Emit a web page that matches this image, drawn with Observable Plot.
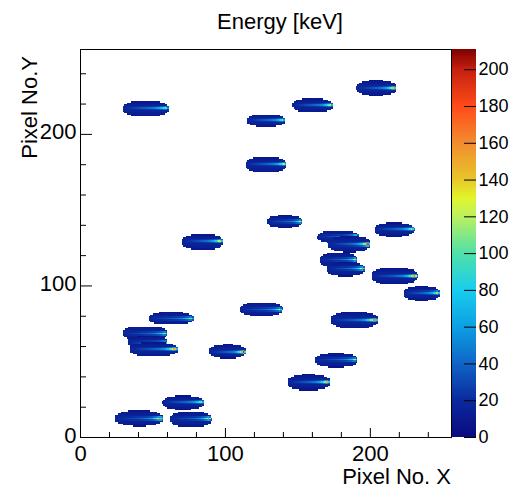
<!DOCTYPE html>
<html>
<head>
<meta charset="utf-8">
<script src="https://cdn.jsdelivr.net/npm/d3@7"></script>
<script src="https://cdn.jsdelivr.net/npm/@observablehq/plot@0.6"></script>
<style>
  html, body { margin: 0; padding: 0; background: #fff; }
  #wrap { position: relative; width: 512px; height: 488px; overflow: hidden; }
  #wrap svg { position: absolute; top: 0; }
</style>
</head>
<body>
<div id="wrap"></div>
<script>
// ---- Data (one entry per hit cluster) ----
const clusterX0   = [29, 146.3, 190.5, 115, 114, 70.4, 129, 47, 110.4, 163.6, 171, 203, 165, 170, 201, 223, 173, 29, 33, 34, 89, 56.6, 24, 62, 162, 143];
const clusterX1   = [60.7, 174, 218, 141, 142, 98, 153, 78, 139.4, 191.9, 200, 230.5, 191, 196, 232.6, 248, 205, 60, 60, 67, 114, 85, 57, 90.4, 191, 172];
const clusterY    = [217, 219.2, 230.5, 209.3, 180, 129, 142.5, 78.7, 84.7, 132.3, 127.6, 137, 117, 111, 106.5, 95, 77.4, 68.8, 62.8, 58.2, 56.9, 23, 12.6, 12, 51, 36.4];
const clusterRows = [9, 8, 9, 7, 9, 9, 7, 7, 8, 7, 9, 8, 9, 8, 10, 8, 10, 8, 7, 8, 8, 8, 9, 9, 8, 9];
const clusterPeak = [115, 130, 175, 110, 125, 150, 130, 120, 135, 200, 205, 120, 140, 160, 180, 145, 190, 125, 125, 170, 200, 115, 185, 175, 125, 170];

const xTicks = [0, 100, 200];
const yTicks = [0, 100, 200];
const minorTicks = [20, 40, 60, 80, 120, 140, 160, 180, 220, 240];
const zTicks = [0, 20, 40, 60, 80, 100, 120, 140, 160, 180, 200];
const zMax = 211;

const paletteValues = [0, 20, 40, 60, 80, 100, 120, 130, 140, 160, 180, 200, 211];
const paletteColors = ["#0a0a80", "#0a2a9e", "#1064c6", "#0ca0e2", "#18cdee", "#50e0a8", "#bcf060", "#e2f52a", "#e8c62a", "#f28c30", "#ff4a18", "#c42010", "#800000"];

// ---- Build the pixel cells of each cluster ----
function trackValue(t, peak) {
  const tp = 0.94;
  if (t <= tp) return 16 + 42 * t + (peak - 58) * Math.pow(t / tp, 9);
  return peak - (peak - 45) * ((t - tp) / (1 - tp));
}
const cells = [];
for (let k = 0; k < clusterX0.length; k++) {
  const x0 = clusterX0[k], x1 = clusterX1[k], yc = clusterY[k];
  const a = (x1 - x0) / 2, cx = (x0 + x1) / 2, b = clusterRows[k] / 2 + 0.6;
  const trackRow = Math.floor(yc);
  for (let x = Math.floor(x0); x <= Math.ceil(x1); x++) {
    for (let y = Math.floor(yc - b) - 1; y <= Math.ceil(yc + b) + 1; y++) {
      const u = (x + 0.5 - cx) / a, v = (y + 0.5 - yc) / b;
      if (Math.pow(Math.abs(u), 2.4) + Math.pow(Math.abs(v), 2.4) > 1.05) continue;
      const t = Math.min(1, Math.max(0, (x + 0.5 - x0) / (x1 - x0)));
      const body = 6 + 11 * (1 - Math.min(1, v * v));
      const d = Math.abs(y - trackRow);
      const e = body + (trackValue(t, clusterPeak[k]) - body) * Math.exp(-d * d / 0.9);
      cells.push({x: x + 0.5, y: y + 0.5, e});
    }
  }
}

const FONT = "'Liberation Sans', Arial, Helvetica, sans-serif";
const colorScale = {type: "linear", domain: paletteValues, range: paletteColors, interpolate: "rgb"};

const W = 512, H = 488, ML = 80, MR = 61, MT = 49, MB = 51;
const frameW = W - ML - MR, frameH = H - MT - MB;

const main = Plot.plot({
  width: W, height: H,
  marginLeft: ML, marginRight: MR, marginTop: MT, marginBottom: MB,
  style: {fontFamily: FONT, color: "black", background: "transparent"},
  x: {domain: [0, 256]},
  y: {domain: [0, 256]},
  color: colorScale,
  marks: [
    Plot.raster(cells, {x: "x", y: "y", fill: "e", x1: 0, y1: 0, x2: 256, y2: 256, width: 256, height: 256, imageRendering: "pixelated"}),
    Plot.frame({stroke: "black", strokeWidth: 1}),
    Plot.tickX(xTicks, {x: d => d, insetTop: frameH - 9, stroke: "black"}),
    Plot.tickX(minorTicks, {x: d => d, insetTop: frameH - 5, stroke: "black"}),
    Plot.tickY(yTicks, {y: d => d, insetRight: frameW - 12, stroke: "black"}),
    Plot.tickY(minorTicks, {y: d => d, insetRight: frameW - 6, stroke: "black"}),
    Plot.axisX(xTicks, {tickSize: 0, tickPadding: 8, fontSize: 22, label: null}),
    Plot.axisY(yTicks, {tickSize: 0, tickPadding: 4, dy: -2, fontSize: 22, label: null})
  ]
});

const bar = Plot.plot({
  width: 60, height: H,
  marginLeft: 0, marginRight: 36, marginTop: MT, marginBottom: MB,
  style: {fontFamily: FONT, color: "black", background: "transparent"},
  x: {domain: [0, 1], axis: null},
  y: {domain: [0, zMax]},
  color: colorScale,
  marks: [
    Plot.rect(d3.range(0, zMax), {x1: 0, x2: 1, y1: d => d, y2: d => d + 1, fill: d => d + 0.5, shapeRendering: "crispEdges"}),
    Plot.ruleY(zTicks, {y: d => d, x1: 0.5, x2: 1, stroke: "black"}),
    Plot.axisY(zTicks, {anchor: "right", tickSize: 0, tickPadding: 2, fontSize: 18, label: null})
  ]
});

const wrap = document.getElementById("wrap");
main.style.left = "0px";
bar.style.left = "452px";
wrap.appendChild(main);
wrap.appendChild(bar);

const svg = d3.select(main);
svg.append("text").attr("x", 280).attr("y", 29).attr("text-anchor", "middle")
  .attr("font-family", FONT).attr("font-size", 22).attr("fill", "black").text("Energy [keV]");
svg.append("text").attr("x", 451).attr("y", 484).attr("text-anchor", "end")
  .attr("font-family", FONT).attr("font-size", 22).attr("fill", "black").text("Pixel No. X");
svg.append("text").attr("transform", "translate(37,56) rotate(-90)").attr("text-anchor", "end")
  .attr("font-family", FONT).attr("font-size", 22).attr("fill", "black").text("Pixel No.Y");
</script>
</body>
</html>
